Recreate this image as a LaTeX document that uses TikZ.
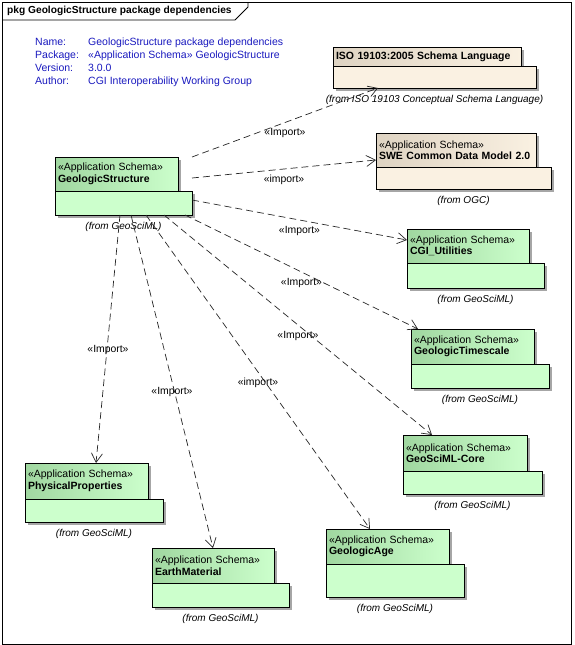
\documentclass[tikz,border=0pt]{standalone}
\usepackage{fontspec}
\setmainfont{Liberation Sans}
\usepackage{tikz}
\usetikzlibrary{positioning,shadows,arrows.meta}
\definecolor{pkgGreen}{RGB}{204,255,204}
\definecolor{pkgGreenDark}{RGB}{160,215,160}
\definecolor{pkgBeige}{RGB}{250,241,226}
\definecolor{pkgBeigeDark}{RGB}{222,211,194}
\definecolor{noteBlue}{RGB}{25,25,190}

\begin{document}
\begin{tikzpicture}[x=1pt,y=-1pt,font=\fontsize{10.5}{11.5}\selectfont]
	\tikzstyle{pkgtab}=[draw=black,line width=0.7pt,outer sep=0pt,anchor=north west,align=left,inner xsep=3pt,inner ysep=1pt,drop shadow={shadow xshift=3pt,shadow yshift=-3pt,fill=black!35,opacity=1}]
	\tikzstyle{greentab}=[pkgtab,left color=pkgGreenDark,right color=pkgGreen]
	\tikzstyle{beigetab}=[pkgtab,left color=pkgBeigeDark,right color=pkgBeige]
	\tikzstyle{pkgbody}=[draw=black,line width=0.7pt,outer sep=0pt,inner sep=0pt,drop shadow={shadow xshift=3pt,shadow yshift=-3pt,fill=black!35,opacity=1}]
	\tikzstyle{greenbody}=[pkgbody,fill=pkgGreen]
	\tikzstyle{beigebody}=[pkgbody,fill=pkgBeige]
	\tikzstyle{fromlabel}=[font=\fontsize{10}{11}\selectfont\itshape,inner sep=1pt]
	\tikzstyle{dep}=[draw=black!85,line width=0.7pt,dash pattern=on 7pt off 4pt,-{Straight Barb[length=9pt,width=11pt]}]
	\tikzstyle{imp}=[font=\fontsize{10.4}{12}\selectfont,inner sep=1pt,midway,below=4.5pt]
	\useasboundingbox (0,0) rectangle (575,645);
	% frame
	\draw[line width=0.8pt] (2,2) rectangle (571,644);
	\draw[line width=0.8pt] (2,20) -- (235,20) -- (248,7) -- (248,2);
	\node[anchor=west,inner sep=0pt,font=\fontsize{10.2}{12}\selectfont\bfseries] (title) at (7,11) {pkg GeologicStructure package dependencies};
	\node[anchor=north west,inner sep=0pt,text=noteBlue,font=\fontsize{10.5}{13}\selectfont] (info) at (35,36) {%
		\begin{tabular}{@{}p{53pt}@{}l@{}}
			Name: & GeologicStructure package dependencies\\
			Package: & «Application Schema» GeologicStructure\\
			Version: & 3.0.0\\
			Author: & CGI Interoperability Working Group
		\end{tabular}};
	% packages
	\node[greentab,text width=117pt,minimum height=34pt] (gsT) at (55,157) {«Application Schema»\\\textbf{GeologicStructure}};
	\node[greenbody,minimum width=137pt,minimum height=24pt,below right=0pt and 0pt of gsT.south west] (gsB) {};
	\node[fromlabel,below=6pt of gsB] (gsF) {(from GeoSciML)};

	\node[beigetab,text width=182pt,minimum height=19pt] (isoT) at (333,47) {\textbf{ISO 19103:2005 Schema Language}};
	\node[beigebody,minimum width=203pt,minimum height=22pt,below right=0pt and 0pt of isoT.south west] (isoB) {};
	\node[fromlabel,below=6pt of isoB] (isoF) {(from ISO 19103 Conceptual Schema Language)};

	\node[beigetab,text width=154pt,minimum height=34pt] (sweT) at (376,133) {«Application Schema»\\\textbf{SWE Common Data Model 2.0}};
	\node[beigebody,minimum width=175pt,minimum height=22pt,below right=0pt and 0pt of sweT.south west] (sweB) {};
	\node[fromlabel,below=6pt of sweB] (sweF) {(from OGC)};

	\node[greentab,text width=116pt,minimum height=34pt] (cgiT) at (407,229) {«Application Schema»\\\textbf{CGI\_Utilities}};
	\node[greenbody,minimum width=137pt,minimum height=25pt,below right=0pt and 0pt of cgiT.south west] (cgiB) {};
	\node[fromlabel,below=6pt of cgiB] (cgiF) {(from GeoSciML)};

	\node[greentab,text width=117pt,minimum height=35pt] (gtsT) at (411,329) {«Application Schema»\\\textbf{GeologicTimescale}};
	\node[greenbody,minimum width=138pt,minimum height=24pt,below right=0pt and 0pt of gtsT.south west] (gtsB) {};
	\node[fromlabel,below=6pt of gtsB] (gtsF) {(from GeoSciML)};

	\node[greentab,text width=118pt,minimum height=36pt] (coreT) at (403,435) {«Application Schema»\\\textbf{GeoSciML-Core}};
	\node[greenbody,minimum width=139pt,minimum height=23pt,below right=0pt and 0pt of coreT.south west] (coreB) {};
	\node[fromlabel,below=6pt of coreB] (coreF) {(from GeoSciML)};

	\node[greentab,text width=117pt,minimum height=36pt] (physT) at (25,463) {«Application Schema»\\\textbf{PhysicalProperties}};
	\node[greenbody,minimum width=138pt,minimum height=23pt,below right=0pt and 0pt of physT.south west] (physB) {};
	\node[fromlabel,below=6pt of physB] (physF) {(from GeoSciML)};

	\node[greentab,text width=116pt,minimum height=35pt] (earthT) at (152,548) {«Application Schema»\\\textbf{EarthMaterial}};
	\node[greenbody,minimum width=137pt,minimum height=24pt,below right=0pt and 0pt of earthT.south west] (earthB) {};
	\node[fromlabel,below=6pt of earthB] (earthF) {(from GeoSciML)};

	\node[greentab,text width=117pt,minimum height=35pt] (ageT) at (326,529) {«Application Schema»\\\textbf{GeologicAge}};
	\node[greenbody,minimum width=138pt,minimum height=33pt,below right=0pt and 0pt of ageT.south west] (ageB) {};
	\node[fromlabel,below=6pt of ageB] (ageF) {(from GeoSciML)};
	% dependencies
	\draw[dep] (gsB.east |- gsT.north) -- ([xshift=45pt]isoB.south west) node[imp] {«Import»};
	\draw[dep] ([yshift=13pt]gsB.north east) -- ([yshift=-10pt]sweT.west) node[imp] {«import»};
	\draw[dep] ([yshift=3pt]gsB.east) -- ([yshift=6pt]cgiT.west) node[imp] {«Import»};
	\draw[dep] ([xshift=-7pt]gsB.south east) -- ([xshift=7pt]gtsT.north west) node[imp] {«Import»};
	\draw[dep] ([xshift=-28pt]gsB.south east) -- ([xshift=29pt]coreT.north west) node[imp] {«Import»};
	\draw[dep] ([xshift=-46pt]gsB.south east) -- ([xshift=44pt]ageT.north west) node[imp] {«import»};
	\draw[dep] ([xshift=76pt]gsB.south west) -- ([xshift=61pt]earthT.north west) node[imp] {«Import»};
	\draw[dep] ([xshift=65pt]gsB.south west) -- ([xshift=71pt]physT.north west) node[imp] {«Import»};
\end{tikzpicture}
\end{document}
